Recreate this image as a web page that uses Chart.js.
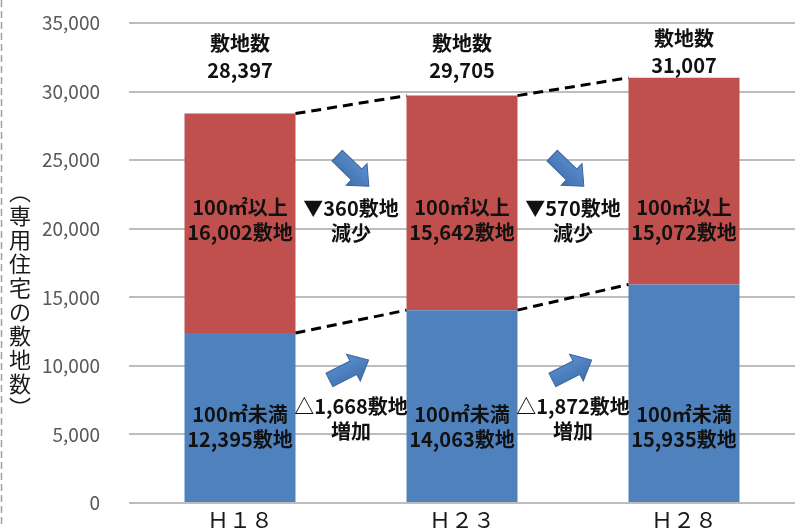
<!DOCTYPE html>
<html><head><meta charset="utf-8">
<script src="https://cdn.jsdelivr.net/npm/chart.js@4"></script>
<style>html,body{margin:0;padding:0;background:#fff}#wrap{width:796px;height:528px;position:relative}</style>
</head><body><div id="wrap"><canvas id="c" width="796" height="528"></canvas></div>
<script>
const categories = ['Ｈ１８', 'Ｈ２３', 'Ｈ２８'];
const under100 = [12395, 14063, 15935];
const over100 = [16002, 15642, 15072];
const totals = [28397, 29705, 31007];
const yMin = 0, yMax = 35000, yStep = 5000;
const yTitle = ['︵', '専', '用', '住', '宅', 'の', '敷', '地', '数', '︶'];

const FONT = '"Noto Sans CJK JP", "Noto Sans", sans-serif';
const RED = '#C0504D', BLUE = '#4F81BD';
const fmt = v => v.toLocaleString('en-US');

function arrow(ctx, cx, cy, ang, L, sw, hw, hl) {
  ctx.save();
  ctx.translate(cx, cy); ctx.rotate(ang);
  ctx.beginPath();
  ctx.moveTo(-L/2, -sw/2); ctx.lineTo(L/2-hl, -sw/2); ctx.lineTo(L/2-hl, -hw/2);
  ctx.lineTo(L/2, 0); ctx.lineTo(L/2-hl, hw/2); ctx.lineTo(L/2-hl, sw/2);
  ctx.lineTo(-L/2, sw/2); ctx.closePath();
  const g = ctx.createLinearGradient(0, -hw/2, 0, hw/2);
  g.addColorStop(0, '#5B8FD0'); g.addColorStop(1, '#3F70AD');
  ctx.fillStyle = g; ctx.fill();
  ctx.lineWidth = 1; ctx.strokeStyle = '#3A659B'; ctx.stroke();
  ctx.restore();
}

const overlay = {
  id: 'overlay',
  beforeDraw(chart) {
    const ctx = chart.ctx;
    ctx.save();
    ctx.fillStyle = '#fff'; ctx.fillRect(0, 0, chart.width, chart.height);
    ctx.strokeStyle = '#a0a0a0'; ctx.lineWidth = 1.5; ctx.setLineDash([7, 4]);
    ctx.beginPath(); ctx.moveTo(1.5, 0); ctx.lineTo(1.5, chart.height); ctx.stroke();
    ctx.setLineDash([]);
    ctx.fillStyle = '#1a1a1a'; ctx.font = '22px ' + FONT;
    ctx.textAlign = 'center'; ctx.textBaseline = 'middle';
    yTitle.forEach((ch, i) => ctx.fillText(ch, 20, 192 + 24 * i));
    ctx.restore();
  },
  afterDatasetsDraw(chart) {
    const ctx = chart.ctx;
    const b0 = chart.getDatasetMeta(0).data, b1 = chart.getDatasetMeta(1).data;
    ctx.save();
    ctx.strokeStyle = '#000'; ctx.lineWidth = 3; ctx.setLineDash([10, 6]);
    [b0, b1].forEach(bars => {
      for (let i = 0; i < bars.length - 1; i++) {
        const a = bars[i], b = bars[i + 1];
        ctx.beginPath();
        ctx.moveTo(a.x + a.width / 2, a.y);
        ctx.lineTo(b.x - b.width / 2, b.y);
        ctx.stroke();
      }
    });
    ctx.setLineDash([]);
    ctx.fillStyle = '#111'; ctx.font = 'bold 20px ' + FONT;
    ctx.textAlign = 'center'; ctx.textBaseline = 'middle';
    const topY1 = [43, 43, 38], topY2 = [70, 70, 65];
    categories.forEach((c, i) => {
      const x = b1[i].x;
      ctx.fillText('敷地数', x, topY1[i]);
      ctx.fillText(fmt(totals[i]), x, topY2[i]);
      ctx.fillText('100㎡以上', x, 207);
      ctx.fillText(fmt(over100[i]) + '敷地', x, 232);
      ctx.fillText('100㎡未満', x, 414);
      ctx.fillText(fmt(under100[i]) + '敷地', x, 439);
    });
    const topDx = [2, -5], botDx = [-2, -1];
    for (let i = 0; i < categories.length - 1; i++) {
      const gx = ((b1[i].x + b1[i].width / 2) + (b1[i + 1].x - b1[i + 1].width / 2)) / 2;
      const dec = over100[i] - over100[i + 1];
      const inc = under100[i + 1] - under100[i];
      arrow(ctx, gx + topDx[i], 171, 44 * Math.PI / 180, 44, 15, 30, 17);
      arrow(ctx, gx + botDx[i], 370, -27 * Math.PI / 180, 44, 15, 30, 17);
      ctx.fillStyle = '#111';
      ctx.fillText((dec >= 0 ? '▼' : '△') + fmt(Math.abs(dec)) + '敷地', gx, 208);
      ctx.fillText(dec >= 0 ? '減少' : '増加', gx, 233);
      ctx.fillText((inc >= 0 ? '△' : '▼') + fmt(Math.abs(inc)) + '敷地', gx, 406);
      ctx.fillText(inc >= 0 ? '増加' : '減少', gx, 431);
    }
    ctx.restore();
  }
};

new Chart(document.getElementById('c'), {
  type: 'bar',
  data: {
    labels: categories,
    datasets: [
      { label: '100㎡未満', data: under100, backgroundColor: BLUE, borderWidth: 0 },
      { label: '100㎡以上', data: over100, backgroundColor: RED, borderWidth: 0 }
    ]
  },
  options: {
    responsive: false, animation: false,
    layout: { padding: { left: 0, right: 1, top: 23, bottom: 0 } },
    categoryPercentage: 1, barPercentage: 0.5,
    plugins: { legend: { display: false }, tooltip: { enabled: false } },
    scales: {
      x: {
        stacked: true,
        grid: { display: false, drawTicks: false },
        border: { display: false },
        ticks: { color: '#1a1a1a', font: { family: FONT, size: 22, lineHeight: 0.05 }, padding: 16, maxRotation: 0 },
        afterFit(s) { s.height = 25; }
      },
      y: {
        stacked: true, min: yMin, max: yMax,
        grid: { color: '#bdbdbd', lineWidth: 2, drawTicks: false },
        border: { display: false },
        ticks: { stepSize: yStep, color: '#595959', font: { family: FONT, size: 19, lineHeight: 0.05 }, padding: 29,
                 callback: v => fmt(v) },
        afterFit(s) { s.width = 129; s.paddingTop = 0; s.paddingBottom = 0; }
      }
    }
  },
  plugins: [overlay]
});
</script></body></html>
